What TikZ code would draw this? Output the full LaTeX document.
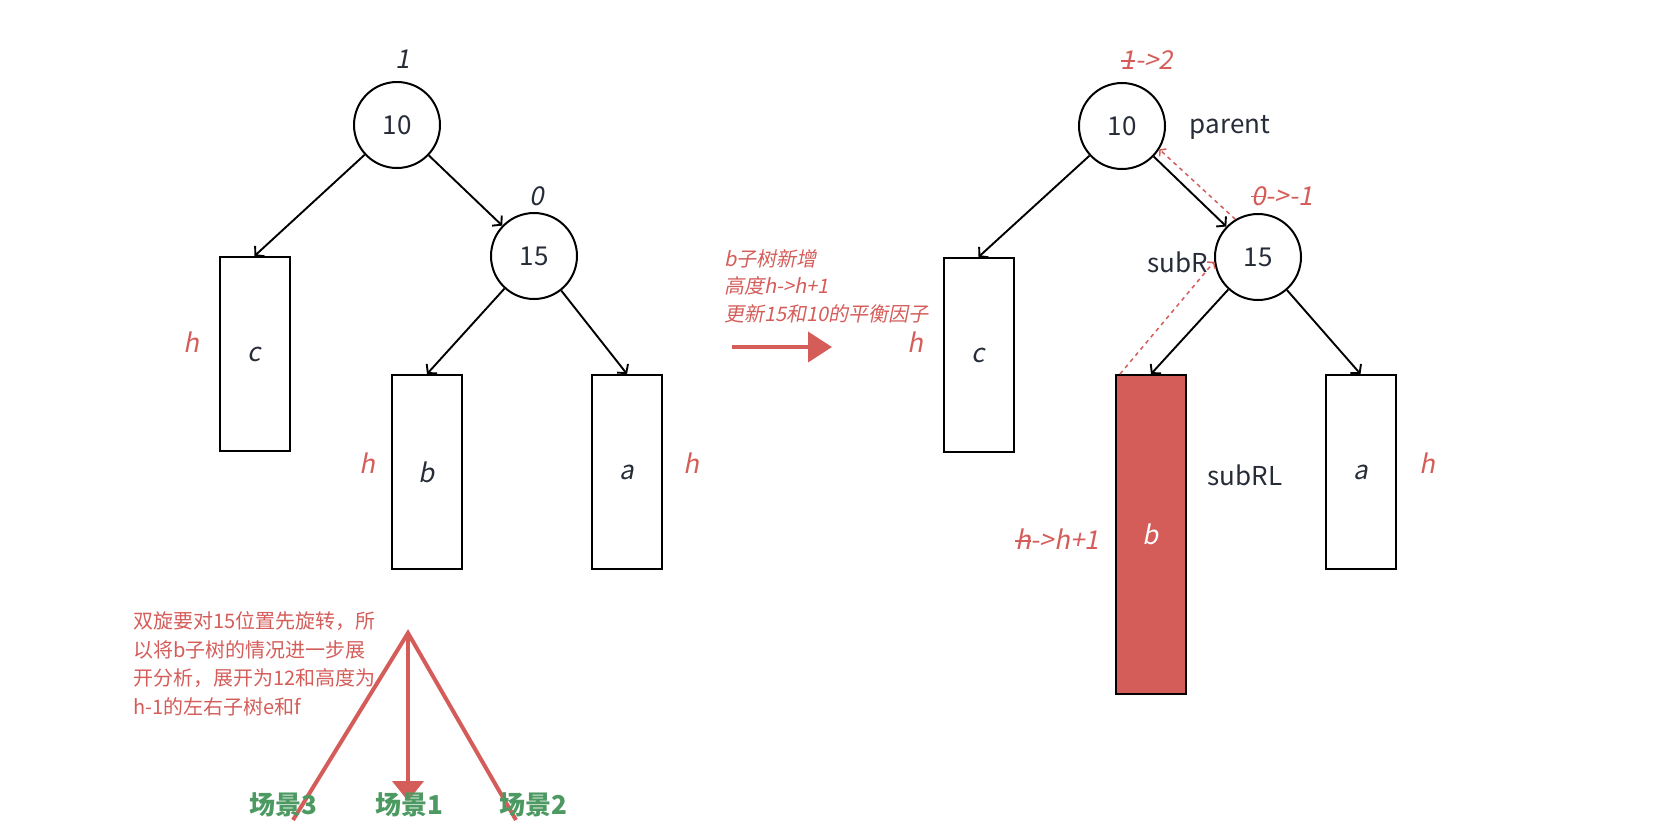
\documentclass[tikz,border=0pt]{standalone}
\usepackage{fontspec}
\setmainfont{Noto Sans CJK SC}
\newfontfamily\slantfont[FakeSlant=0.2]{Noto Sans CJK SC}
\usetikzlibrary{arrows.meta,positioning}
\definecolor{avlred}{RGB}{212,93,90}
\definecolor{avlgreen}{RGB}{76,154,98}
\definecolor{inkgray}{RGB}{38,45,56}
\newcommand{\strikeout}[1]{\setbox0=\hbox{#1}\rlap{\raisebox{0.3em}{\rule{\wd0}{1.4pt}}}\box0}

\begin{document}
\begin{tikzpicture}[
  x=1pt, y=-1pt,
  font=\fontsize{26}{30}\selectfont, text=inkgray,
  treenode/.style={draw, circle, line width=2pt, minimum size=86pt, inner sep=0pt},
  subtree/.style={draw, line width=2pt, minimum width=70pt, minimum height=194pt, inner sep=0pt, font=\fontsize{26}{30}\selectfont\slantfont},
  edge/.style={-{Straight Barb[length=6pt,width=14pt]}, line width=1.9pt},
  hint/.style={-{Straight Barb[length=4pt,width=10pt]}, avlred, line width=1.5pt, dash pattern=on 4pt off 4pt},
  bal/.style={font=\fontsize{26}{30}\selectfont\slantfont},
  hgt/.style={text=avlred, font=\fontsize{26}{30}\selectfont\slantfont},
  note/.style={text=avlred, align=left, inner sep=0pt},
  bigarrow/.style={-{Triangle[length=24pt,width=30pt]}, avlred, line width=4pt},
  scene/.style={text=avlgreen, font=\fontsize{26}{30}\selectfont\bfseries}
]
\useasboundingbox (0,0) rectangle (1660,820);

% before: 10 is parent, b stays at h
\node[treenode] (lroot) at (397,125) {10};
\node[treenode] (lsub) at (534,256) {15};
\node[subtree] (lc) at (254.5,354) {c};
\node[subtree] (lb) at (427,472) {b};
\node[subtree] (la) at (627,472) {a};
\node[bal] (lbf1) at (403,59) {1};
\node[bal] (lbf2) at (537,196) {0};
\node[hgt] (lhc) at (191,342) {h};
\node[hgt] (lhb) at (367,463) {h};
\node[hgt] (lha) at (691,463) {h};

\draw[edge] (lroot) -- (lc.north);
\draw[edge] (lroot) -- (lsub);
\draw[edge] (lsub) -- (lb.north);
\draw[edge] (lsub) -- (la.north);

% insert into b
\node[note, anchor=west, font=\fontsize{20}{27.5}\selectfont\slantfont] (why) at (724,286) {b子树新增\\高度h->h+1\\更新15和10的平衡因子};
\coordinate (go) at (732,347);
\coordinate (arrive) at (832,347);
\draw[bigarrow] (go) -- (arrive);

% after
\node (subr) at (1178,262) {subR};
\node[subtree, fill=avlred, text=white, minimum height=319pt] (rb) at (1151,534.5) {b};
\node[treenode] (rroot) at (1122,126) {10};
\node[treenode] (rsub) at (1258,257) {15};
\node[subtree] (rc) at (978.5,355) {c};
\node[subtree] (ra) at (1360.5,472) {a};
\node (parent) at (1230,127) {parent};
\node (subrl) at (1245,475) {subRL};
\node[hgt] (rbf1) at (1147,60) {\strikeout{1}->2};
\node[hgt] (rbf2) at (1282,196) {\strikeout{0}->-1};
\node[hgt] (rhc) at (915,342) {h};
\node[hgt] (rha) at (1427,463) {h};
\node[hgt] (rhb) at (1057,539) {\strikeout{h}->h+1};

\draw[edge] (rroot) -- (rc.north);
\draw[edge] (rroot) -- (rsub);
\draw[edge] (rsub) -- (rb.north);
\draw[edge] (rsub) -- (ra.north);
\draw[hint] ([xshift=5pt]rb.north west) -- (rsub.186);
\draw[hint] (rsub.121) -- (rroot.-32);

% double rotation cases
\node[note, anchor=west, font=\fontsize{20}{28.6}\selectfont] (why2) at (133,664) {双旋要对15位置先旋转，所\\以将b子树的情况进一步展\\开分析，展开为12和高度为\\h-1的左右子树e和f};
\coordinate (apex) at (408,633);
\coordinate (lfoot) at (293,820);
\coordinate (rfoot) at (516,820);
\coordinate (tip) at (408,801);
\draw[avlred, line width=4pt] (lfoot) -- (apex) -- (rfoot);
\draw[bigarrow, -{Triangle[length=20pt,width=31pt]}] (apex) -- (tip);
\node[scene] (s3) at (283,805) {场景3};
\node[scene] (s1) at (409,805) {场景1};
\node[scene] (s2) at (533,805) {场景2};
\end{tikzpicture}
\end{document}
